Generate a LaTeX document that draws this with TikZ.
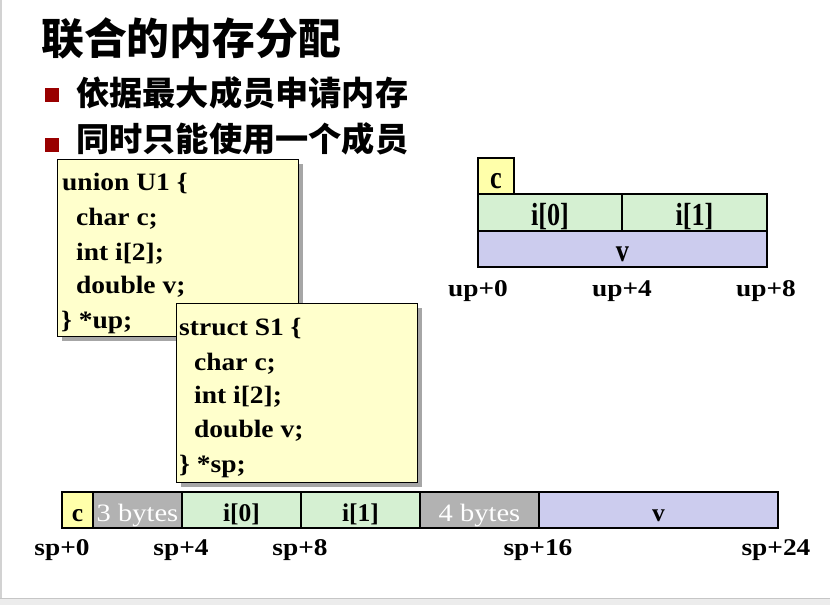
\documentclass[tikz,border=0pt]{standalone}
\usepackage{graphicx}
\usepackage{fontspec}
\setmainfont{Liberation Serif}
\newfontfamily\cjk{Noto Sans CJK SC}
\newcommand\wideA[1]{\scalebox{1.1}[1]{#1}}
\newcommand\wideB[1]{\scalebox{1.14}[1]{#1}}
\newcommand\narrowU[1]{\scalebox{0.82}[1]{#1}}
\definecolor{codebg}{HTML}{FFFFCC}
\definecolor{cyel}{HTML}{FFFFAA}
\definecolor{cgreen}{HTML}{D5F0D2}
\definecolor{cblue}{HTML}{CCCCEE}
\definecolor{cgray}{HTML}{B2B2B2}
\definecolor{bulletred}{HTML}{990000}
\tikzset{
  cell/.style={draw=black, line width=1.3pt, inner sep=0pt, text depth=0pt},
  ucell/.style={cell, text height=25pt, font=\fontsize{32}{34}\selectfont\bfseries},
  scell/.style={cell, text height=23pt, font=\fontsize{25.5}{28}\selectfont\bfseries},
  gapcell/.style={cell, text height=23pt, fill=cgray, text=white, font=\fontsize{25}{28}\selectfont},
  codebox/.style={draw=black, line width=1pt, fill=codebg, inner sep=0pt},
  codeline/.style={anchor=base west, inner sep=0pt, font=\fontsize{25}{28}\selectfont\bfseries},
  addr/.style={anchor=base, inner sep=0pt, font=\fontsize{24}{28}\selectfont\bfseries},
  cjktitle/.style={anchor=west, inner sep=0pt, font=\cjk\bfseries\fontsize{42.8}{44}\selectfont},
  cjkbullet/.style={anchor=west, inner sep=0pt, font=\cjk\bfseries\fontsize{33.2}{35}\selectfont},
  bulletsq/.style={fill=bulletred, draw=none, minimum size=14pt, inner sep=0pt}
}
\begin{document}
\begin{tikzpicture}[x=1pt,y=-1pt]
\useasboundingbox (0,0) rectangle (830,605);
\fill[white] (0,0) rectangle (830,605);
% frame edges
\fill[gray!35] (0,0) rectangle (2,598);
\fill[gray!15] (0,598) rectangle (830,605);
\draw[gray!45, line width=1pt] (0,598) -- (830,598);

% title and bullets
\node[cjktitle] (title) at (41,38.5) {联合的内存分配};
\node[bulletsq] (b1) at (52,95) {};
\node[cjkbullet] (t1) at (76,93) {依据最大成员申请内存};
\node[bulletsq] (b2) at (52,144.5) {};
\node[cjkbullet] (t2) at (76,139) {同时只能使用一个成员};

% union code box
\fill[gray!70] (62,164) rectangle (303,341);
\node[codebox, minimum width=241pt, minimum height=177pt] (ubox) at (177.5,247.5) {};
\node[codeline] (u1) at (62,190) {\wideA{union U1 \{}};
\node[codeline] (u2) at (76,225) {\wideA{char c;}};
\node[codeline] (u3) at (76,260) {\wideA{int i[2];}};
\node[codeline] (u4) at (76,293.5) {\wideA{double v;}};
\node[codeline] (u5) at (61,328) {\wideA{\} *up;}};

% struct code box
\fill[gray!70] (181,308) rectangle (422,487);
\node[codebox, minimum width=241pt, minimum height=179pt] (sbox) at (296.5,392.5) {};
\node[codeline] (s1) at (179,335) {\wideA{struct S1 \{}};
\node[codeline] (s2) at (194,370) {\wideA{char c;}};
\node[codeline] (s3) at (194,403) {\wideA{int i[2];}};
\node[codeline] (s4) at (194,437) {\wideA{double v;}};
\node[codeline] (s5) at (179,472) {\wideA{\} *sp;}};

% union layout
\node[ucell, fill=cyel, minimum width=36pt, minimum height=36pt] (uc) at (496,176) {\narrowU{c}};
\node[ucell, fill=cgreen, minimum width=144pt, minimum height=37pt] (ui0) at (550,212.5) {\narrowU{i[0]}};
\node[ucell, fill=cgreen, minimum width=145pt, minimum height=37pt] (ui1) at (694.5,212.5) {\narrowU{i[1]}};
\node[ucell, fill=cblue, minimum width=289pt, minimum height=36pt] (uv) at (622.5,249) {\narrowU{v}};
\node[addr] (up0) at (478,296.5) {\wideB{up+0}};
\node[addr] (up4) at (622,296.5) {\wideB{up+4}};
\node[addr] (up8) at (766,296.5) {\wideB{up+8}};

% struct layout
\node[scell, fill=cyel, minimum width=31pt, minimum height=36pt] (sc) at (77.5,510) {c};
\node[gapcell, minimum width=89pt, minimum height=36pt] (sg3) at (137.5,510) {\wideB{3 bytes}};
\node[scell, fill=cgreen, minimum width=119pt, minimum height=36pt] (si0) at (241.5,510) {i[0]};
\node[scell, fill=cgreen, minimum width=119pt, minimum height=36pt] (si1) at (360.5,510) {i[1]};
\node[gapcell, minimum width=119pt, minimum height=36pt] (sg4) at (479.5,510) {\wideB{4 bytes}};
\node[scell, fill=cblue, minimum width=239pt, minimum height=36pt] (sv) at (658.5,510) {v};
\node[addr] (sp0) at (62,555) {\wideB{sp+0}};
\node[addr] (sp4) at (181,555) {\wideB{sp+4}};
\node[addr] (sp8) at (300,555) {\wideB{sp+8}};
\node[addr] (sp16) at (538,555) {\wideB{sp+16}};
\node[addr] (sp24) at (776,555) {\wideB{sp+24}};
\end{tikzpicture}
\end{document}
